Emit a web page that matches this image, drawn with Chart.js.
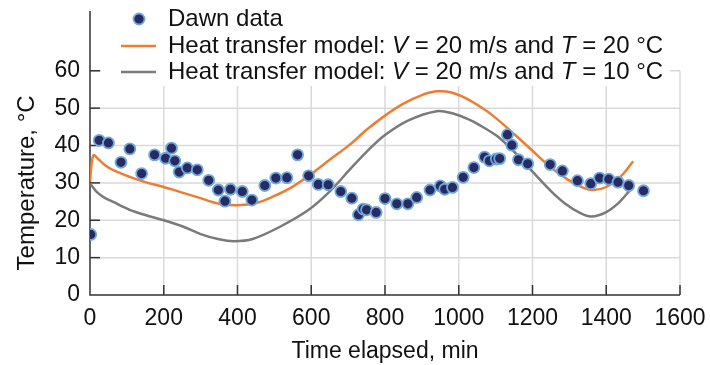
<!DOCTYPE html>
<html>
<head>
<meta charset="utf-8">
<script src="https://cdn.jsdelivr.net/npm/chart.js@4.4.1/dist/chart.umd.min.js"></script>
<style>
  html, body { margin: 0; padding: 0; background: #fff; }
  #wrap { width: 710px; height: 365px; }
</style>
</head>
<body>
<div id="wrap"><canvas id="chart" width="710" height="365"></canvas></div>
<script>
// measured data (minutes, °C)
const dawnTime = [2, 25, 50, 84, 108, 140, 175, 205, 221, 230, 242, 264, 291, 322, 348, 366, 381, 413, 439,
  474, 504, 534, 563, 593, 619, 646, 680, 710, 728, 741, 750, 776, 800, 832, 862, 886, 922, 950, 962, 983,
  1012, 1041, 1070, 1083, 1102, 1111, 1132, 1144, 1162, 1187, 1248, 1281, 1322, 1358, 1382, 1407, 1432, 1461, 1501];
const dawnTemp = [16.2, 41.4, 40.7, 35.5, 39.1, 32.5, 37.5, 36.6, 39.3, 35.9, 32.9, 34.0, 33.5, 30.7, 28.1, 25.1, 28.3, 27.7, 25.4,
  29.3, 31.3, 31.4, 37.5, 31.9, 29.6, 29.5, 27.7, 25.9, 21.5, 23.0, 22.8, 22.1, 25.8, 24.4, 24.4, 26.1, 28.1, 29.2, 28.3, 28.8,
  31.5, 34.1, 36.9, 35.9, 36.4, 36.5, 42.9, 40.1, 36.2, 35.1, 34.9, 33.2, 30.6, 29.8, 31.3, 31.0, 30.2, 29.3, 27.9];

// heat transfer model, T = 20 °C
const warmTime = [0, 4, 10, 20, 40, 63, 108, 150, 200, 250, 291, 350, 400, 450, 500, 550, 600, 650, 703, 750,
  800, 850, 900, 940, 980, 1020, 1072, 1100, 1150, 1200, 1250, 1300, 1340, 1365, 1400, 1440, 1473];
const warmTemp = [30.3, 35.0, 37.4, 36.6, 34.8, 33.4, 31.6, 30.2, 28.9, 27.4, 26.2, 24.4, 24.0, 24.6, 26.5, 29.0, 32.4, 36.2, 40.1, 44.2,
  48.0, 51.2, 53.5, 54.5, 54.2, 52.6, 49.5, 47.4, 43.1, 38.6, 34.1, 30.6, 28.6, 28.1, 28.9, 31.8, 35.8];

// heat transfer model, T = 10 °C
const coolTime = [0, 3, 18, 40, 63, 108, 150, 200, 250, 300, 350, 390, 441, 514, 593, 649, 703, 750,
  800, 865, 940, 980, 1027, 1054, 1100, 1135, 1170, 1200, 1250, 1288, 1330, 1360, 1400, 1435, 1464];
const coolTemp = [29.8, 29.5, 27.6, 26.0, 24.9, 22.8, 21.4, 20.0, 18.4, 16.3, 14.9, 14.4, 15.0, 18.2, 22.8, 27.6, 33.4, 38.3,
  42.8, 46.8, 49.2, 48.7, 47.0, 45.6, 42.8, 39.8, 36.3, 33.0, 27.8, 24.5, 21.9, 21.0, 22.2, 24.8, 28.0];

const xTicks = [0, 200, 400, 600, 800, 1000, 1200, 1400, 1600];
const yTicks = [0, 10, 20, 30, 40, 50, 60];

const FONT = 'Liberation Sans, Arial, sans-serif';
const INK = '#111';
const ORANGE = '#ed7d31';
const GRAY = '#7a7a7a';
const DOT_FILL = '#272b62';
const DOT_EDGE = '#6fa8dc';

const pairs = (xs, ys) => xs.map((x, i) => ({ x: x, y: ys[i] }));

// grid only inside 0..60, axes with inward ticks, y title centred on the grid
const gridPlugin = {
  id: 'customGrid',
  beforeDatasetsDraw(chart) {
    const { ctx, scales: { x, y } } = chart;
    const top = y.getPixelForValue(60);
    const bottom = y.getPixelForValue(0);
    const left = x.getPixelForValue(0);
    const right = x.getPixelForValue(1600);
    ctx.save();
    ctx.strokeStyle = '#d9d9d9';
    ctx.lineWidth = 1.5;
    xTicks.slice(1).forEach(v => {
      const px = x.getPixelForValue(v);
      ctx.beginPath(); ctx.moveTo(px, top); ctx.lineTo(px, bottom); ctx.stroke();
    });
    yTicks.slice(1).forEach(v => {
      const py = y.getPixelForValue(v);
      ctx.beginPath(); ctx.moveTo(left, py); ctx.lineTo(right, py); ctx.stroke();
    });
    // white box behind legend
    ctx.fillStyle = '#fff';
    ctx.fillRect(left + 11, 0, 670 - left - 11, 86);
    // axes
    ctx.strokeStyle = '#333';
    ctx.lineWidth = 1.5;
    ctx.beginPath();
    ctx.moveTo(left, chart.chartArea.top); ctx.lineTo(left, bottom); ctx.lineTo(right, bottom);
    ctx.stroke();
    xTicks.slice(1).forEach(v => {
      const px = x.getPixelForValue(v);
      ctx.beginPath(); ctx.moveTo(px, bottom); ctx.lineTo(px, bottom - 10); ctx.stroke();
    });
    yTicks.slice(1).forEach(v => {
      const py = y.getPixelForValue(v);
      ctx.beginPath(); ctx.moveTo(left, py); ctx.lineTo(left + 10, py); ctx.stroke();
    });
    // y axis title
    ctx.translate(27, (top + bottom) / 2);
    ctx.rotate(-Math.PI / 2);
    ctx.font = '24px ' + FONT;
    ctx.fillStyle = INK;
    ctx.textAlign = 'center';
    ctx.textBaseline = 'middle';
    ctx.fillText('Temperature, °C', 0, 0);
    ctx.restore();
  }
};

// legend with italic V and T
const legendPlugin = {
  id: 'customLegend',
  afterDraw(chart) {
    const ctx = chart.ctx;
    const textX = 168;
    const rows = [
      { kind: 'dot', y: 19, parts: [['Dawn data', false]] },
      { kind: 'line', color: ORANGE, y: 46, parts: [['Heat transfer model: ', false], ['V', true], [' = 20 m/s and ', false], ['T', true], [' = 20 °C', false]] },
      { kind: 'line', color: GRAY, y: 72, parts: [['Heat transfer model: ', false], ['V', true], [' = 20 m/s and ', false], ['T', true], [' = 10 °C', false]] }
    ];
    ctx.save();
    rows.forEach(r => {
      if (r.kind === 'dot') {
        ctx.beginPath();
        ctx.arc(139, r.y, 5.5, 0, Math.PI * 2);
        ctx.fillStyle = DOT_FILL; ctx.fill();
        ctx.lineWidth = 1.8; ctx.strokeStyle = DOT_EDGE; ctx.stroke();
      } else {
        ctx.beginPath();
        ctx.moveTo(121, r.y); ctx.lineTo(156, r.y);
        ctx.lineWidth = 2.5; ctx.strokeStyle = r.color; ctx.stroke();
      }
      let cx = textX;
      ctx.fillStyle = INK;
      ctx.textBaseline = 'middle';
      r.parts.forEach(([txt, it]) => {
        ctx.font = (it ? 'italic ' : '') + '24px ' + FONT;
        ctx.fillText(txt, cx, r.y);
        cx += ctx.measureText(txt).width;
      });
    });
    ctx.restore();
  }
};

new Chart(document.getElementById('chart'), {
  type: 'scatter',
  data: {
    datasets: [
      {
        label: 'Dawn data',
        data: pairs(dawnTime, dawnTemp),
        pointRadius: 5.5,
        pointBackgroundColor: DOT_FILL,
        pointBorderColor: DOT_EDGE,
        pointBorderWidth: 1.8,
        showLine: false
      },
      {
        label: 'T = 10',
        data: pairs(coolTime, coolTemp),
        showLine: true,
        borderColor: GRAY,
        borderWidth: 2.5,
        pointRadius: 0,
        tension: 0.35
      },
      {
        label: 'T = 20',
        data: pairs(warmTime, warmTemp),
        showLine: true,
        borderColor: ORANGE,
        borderWidth: 2.5,
        pointRadius: 0,
        tension: 0.35
      }
    ]
  },
  options: {
    responsive: false,
    animation: false,
    layout: { padding: { top: 11, right: 30, left: 0, bottom: 0 } },
    plugins: { legend: { display: false }, tooltip: { enabled: false } },
    scales: {
      x: {
        type: 'linear',
        min: 0, max: 1600,
        afterBuildTicks: s => { s.ticks = xTicks.map(v => ({ value: v })); },
        afterFit: s => { s.height = 70; s.paddingLeft = 0; s.paddingRight = 0; },
        grid: { display: false },
        border: { display: false },
        ticks: { color: INK, font: { family: FONT, size: 23 }, padding: 2, maxRotation: 0, callback: v => String(v) },
        title: { display: true, text: 'Time elapsed, min', color: INK, font: { family: FONT, size: 23 }, padding: { top: 0, bottom: 0 } }
      },
      y: {
        type: 'linear',
        min: 0, max: 76,
        afterBuildTicks: s => { s.ticks = yTicks.map(v => ({ value: v })); },
        afterFit: s => { s.width = 90; s.paddingTop = 0; s.paddingBottom = 0; },
        grid: { display: false },
        border: { display: false },
        ticks: { color: INK, font: { family: FONT, size: 23 }, padding: 2, callback: v => String(v) },
        title: { display: false }
      }
    }
  },
  plugins: [gridPlugin, legendPlugin]
});
</script>
</body>
</html>
